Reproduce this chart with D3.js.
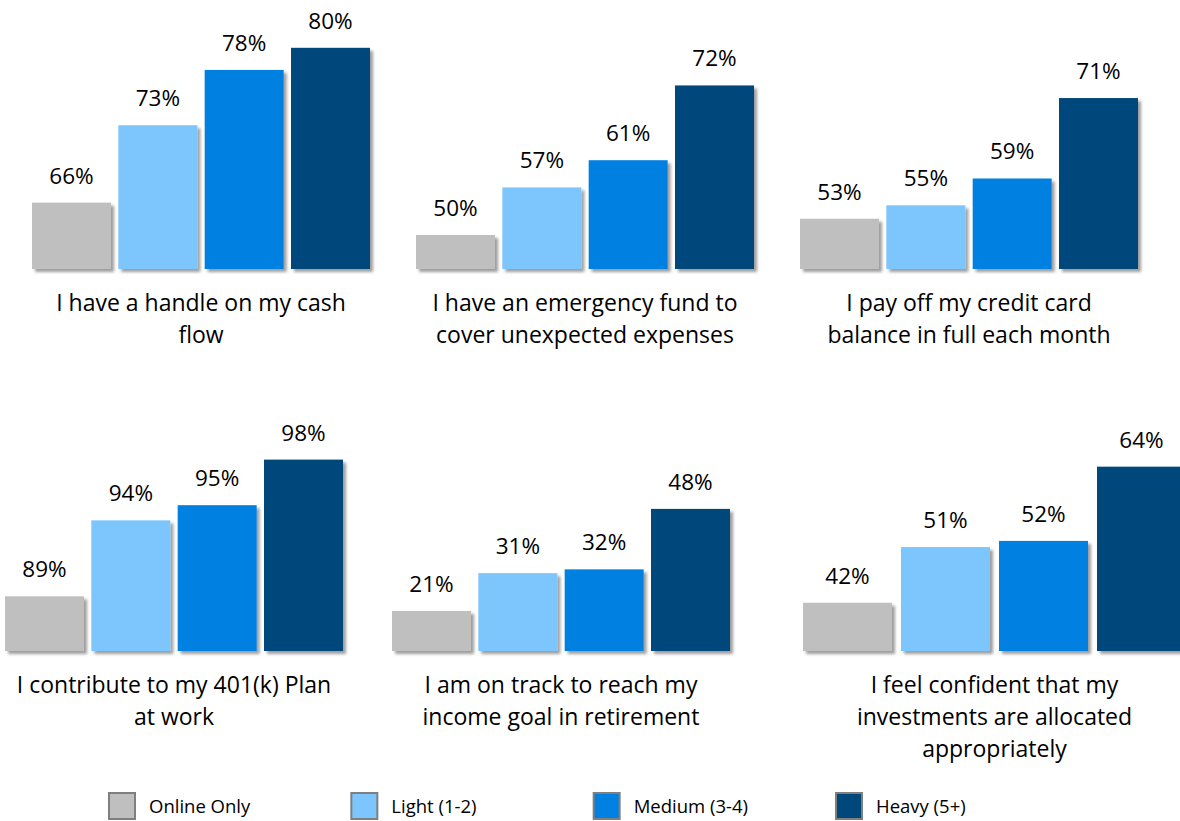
<!DOCTYPE html>
<html>
<head>
<meta charset="utf-8">
<script src="https://cdn.jsdelivr.net/npm/d3@7"></script>
<style>
  html, body { margin: 0; padding: 0; background: #ffffff; }
  svg { display: block; }
  text { font-family: "Open Sans", "Noto Sans", sans-serif; fill: #000000; }
</style>
</head>
<body>
<svg id="chart" width="1180" height="821"></svg>
<script>
// Survey segments (one bar per segment in every panel)
const segments = ["Online Only", "Light (1-2)", "Medium (3-4)", "Heavy (5+)"];
const segmentColors = ["#bfbfbf", "#7cc5fd", "#0080e0", "#00477c"];

// Statements, one panel each, already split into display lines
const statements = [
  ["I have a handle on my cash", "flow"],
  ["I have an emergency fund to", "cover unexpected expenses"],
  ["I pay off my credit card", "balance in full each month"],
  ["I contribute to my 401(k) Plan", "at work"],
  ["I am on track to reach my", "income goal in retirement"],
  ["I feel confident that my", "investments are allocated", "appropriately"]
];

// Share agreeing (%), per segment, in statement order
const onlineOnly = [66, 50, 53, 89, 21, 42];
const lightUse   = [73, 57, 55, 94, 31, 51];
const mediumUse  = [78, 61, 59, 95, 32, 52];
const heavyUse   = [80, 72, 71, 98, 48, 64];

// Value-axis extent of each panel (each panel has its own truncated axis)
const axisMin = [60, 45, 45.5, 85.4, 10.4, 34.2];
const axisMax = [81.7, 80.3, 81.3, 101.2, 73.9, 73.0];

const series = [onlineOnly, lightUse, mediumUse, heavyUse];

// Panel frames: horizontal extent of the bar group and baseline of the plot
const panels = [
  { x0: 32,  x1: 370,  base: 269, pad: 0.085 },
  { x0: 416, x1: 754,  base: 269, pad: 0.085 },
  { x0: 800, x1: 1138, base: 269, pad: 0.085 },
  { x0: 5,   x1: 343,  base: 651, pad: 0.085 },
  { x0: 392, x1: 730,  base: 651, pad: 0.085 },
  { x0: 803, x1: 1186, base: 651, pad: 0.092 }
];
const plotHeight = 240;

const svg = d3.select("#chart");

// Soft drop shadow under each bar
const defs = svg.append("defs");
const shadow = defs.append("filter")
  .attr("id", "barShadow")
  .attr("x", "-10%").attr("y", "-10%")
  .attr("width", "130%").attr("height", "130%");
shadow.append("feDropShadow")
  .attr("dx", 3).attr("dy", 3)
  .attr("stdDeviation", 1.6)
  .attr("flood-color", "#000000")
  .attr("flood-opacity", 0.38);

const color = d3.scaleOrdinal().domain(segments).range(segmentColors);

panels.forEach((p, i) => {
  const g = svg.append("g").attr("class", "panel");

  const x = d3.scaleBand()
    .domain(segments)
    .range([p.x0, p.x1])
    .paddingInner(p.pad)
    .paddingOuter(0);

  const y = d3.scaleLinear()
    .domain([axisMin[i], axisMax[i]])
    .range([p.base, p.base - plotHeight]);

  const rows = segments.map((s, k) => ({ seg: s, value: series[k][i] }));

  g.selectAll("rect.bar")
    .data(rows)
    .join("rect")
    .attr("class", "bar")
    .attr("x", d => x(d.seg))
    .attr("y", d => y(d.value))
    .attr("width", x.bandwidth())
    .attr("height", d => p.base - y(d.value))
    .attr("fill", d => color(d.seg))
    .attr("filter", "url(#barShadow)");

  g.selectAll("text.value")
    .data(rows)
    .join("text")
    .attr("class", "value")
    .attr("x", d => x(d.seg) + x.bandwidth() / 2)
    .attr("y", d => y(d.value) - 19)
    .attr("text-anchor", "middle")
    .style("font-size", "22.5px")
    .text(d => d.value + "%");

  const cx = (p.x0 + p.x1) / 2;
  g.selectAll("text.statement")
    .data(statements[i])
    .join("text")
    .attr("class", "statement")
    .attr("x", cx)
    .attr("y", (d, k) => p.base + 42 + k * 32)
    .attr("text-anchor", "middle")
    .style("font-size", "23px")
    .text(d => d);
});

// Legend along the bottom edge
const legendX = d3.scalePoint().domain(segments).range([108, 835]);
const legend = svg.append("g").attr("class", "legend");
const item = legend.selectAll("g.item")
  .data(segments)
  .join("g")
  .attr("class", "item")
  .attr("transform", d => `translate(${legendX(d)},792)`);

item.append("rect")
  .attr("x", 1).attr("y", 1)
  .attr("width", 26).attr("height", 26)
  .attr("fill", d => color(d))
  .attr("stroke", "#7f7f7f")
  .attr("stroke-width", 2);

item.append("text")
  .attr("x", 41)
  .attr("y", 21)
  .style("font-size", "18.5px")
  .text(d => d);
</script>
</body>
</html>
